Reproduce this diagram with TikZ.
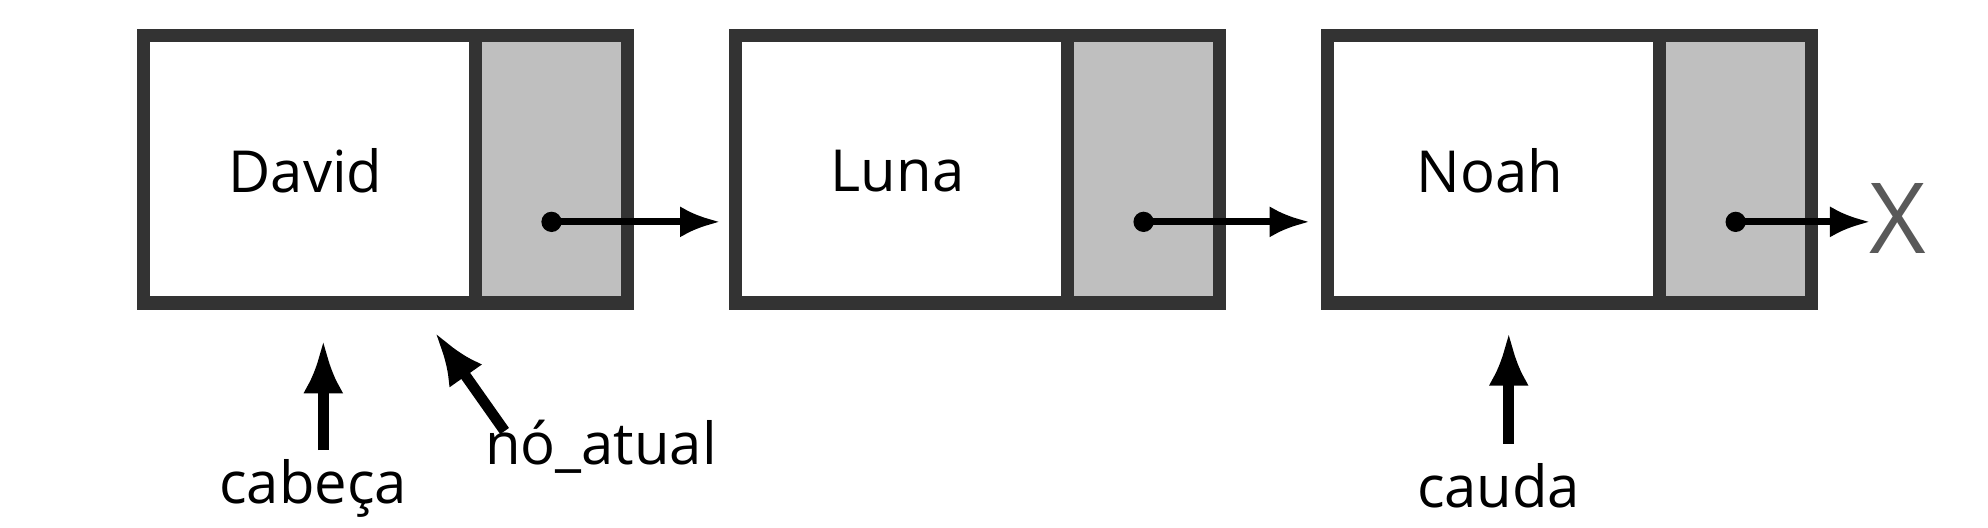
\documentclass[tikz,border=0pt]{standalone}
\usepackage{fontspec}
\setmainfont{Open Sans}
\usetikzlibrary{arrows.meta}
\begin{document}
\begin{tikzpicture}[x=0.01cm,y=-0.01cm,
  frame/.style={draw=black!80,line width=3pt,fill=white},
  ptr/.style={fill=black!25,draw=black!80,line width=3pt},
  lbl/.style={font=\fontsize{13}{15}\selectfont},
  link/.style={line width=1.6pt,-{Latex[length=9pt,width=7pt]}},
  up/.style={line width=2.4pt,-{Latex[length=12pt,width=9pt]}}]
\useasboundingbox (0,0) rectangle (1568,416);
\foreach \i/\x/\name in {1/113/David,2/580/Luna,3/1047/Noah}{
  \draw[frame] (\x,28) rectangle ++(382,211);
  \draw[ptr] (\x+262,28) rectangle (\x+382,239);
  \node[lbl] (t\i) at (\x+128,135) {\name};
  \fill (\x+322,175) circle (8) coordinate (d\i);
}
\coordinate (e1) at (568,175);
\coordinate (e2) at (1033,175);
\coordinate (e3) at (1475,175);
\draw[link] (d1) -- (e1);
\draw[link] (d2) -- (e2);
\draw[link] (d3) -- (e3);
\node[font=\fontsize{22}{24}\selectfont,text=black!65,anchor=west,inner sep=0] (x) at (1474,172) {X};
\node[lbl] (cab) at (247,385) {cabeça};
\node[lbl] (no) at (474,352) {nó\_atual};
\node[lbl] (cau) at (1182,383) {cauda};
\coordinate (a1) at (255,268);
\coordinate (a2) at (343,262);
\coordinate (a3) at (1190,262);
\draw[up] (255,355) -- (a1);
\draw[up] (398,340) -- (a2);
\draw[up] (1190,350) -- (a3);
\end{tikzpicture}
\end{document}
